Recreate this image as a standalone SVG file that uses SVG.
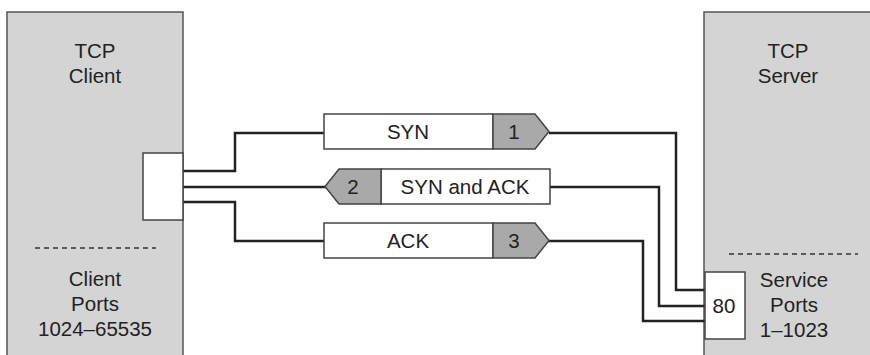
<svg xmlns="http://www.w3.org/2000/svg" width="870" height="355" viewBox="0 0 870 355">
<style>
.host{fill:#d4d4d4;stroke:#555;stroke-width:1.5}
.port{fill:#fff;stroke:#444;stroke-width:1.5}
.dash{stroke:#333;stroke-width:1.5;stroke-dasharray:5 4;fill:none}
.wire{fill:none;stroke:#222;stroke-width:2.5}
.seg{fill:#fff;stroke:#444;stroke-width:1.5}
.num{fill:#a9a9a9;stroke:#444;stroke-width:1.5}
text{font-family:"Liberation Sans",Arial,sans-serif;font-size:20.5px;fill:#222;text-anchor:middle}
</style>
<rect width="870" height="355" fill="#fff"/>
<g id="client">
<rect class="host" x="7" y="12" width="176" height="350"/>
<text x="95" y="58">TCP</text>
<text x="95" y="83">Client</text>
<line class="dash" x1="35" y1="248" x2="156" y2="248"/>
<text x="95" y="286">Client</text>
<text x="95" y="311">Ports</text>
<text x="95" y="336">1024–65535</text>
</g>
<g id="server">
<rect class="host" x="704" y="12" width="180" height="350"/>
<text x="788" y="58">TCP</text>
<text x="788" y="83">Server</text>
<line class="dash" x1="729" y1="254" x2="858" y2="254"/>
<text x="794" y="287">Service</text>
<text x="794" y="312">Ports</text>
<text x="794" y="337">1–1023</text>
</g>
<g id="connectors">
<polyline class="wire" points="183,171 235,171 235,133 324,133"/>
<polyline class="wire" points="549,133 676,133 676,290 705,290"/>
<polyline class="wire" points="183,187 326,187"/>
<polyline class="wire" points="550,187 659,187 659,306 705,306"/>
<polyline class="wire" points="183,202 235,202 235,241 324,241"/>
<polyline class="wire" points="548,241 643,241 643,321 705,321"/>
</g>
<g id="client-port">
<rect class="port" x="143" y="153" width="40" height="67"/>
</g>
<g id="server-port">
<rect class="port" x="705" y="272" width="40" height="67"/>
<text x="724" y="313">80</text>
</g>
<g id="syn">
<rect class="seg" x="324" y="114" width="169" height="35"/>
<polygon class="num" points="493,114 535,114 549,131.5 535,149 493,149"/>
<text x="408" y="139">SYN</text>
<text x="514" y="139">1</text>
</g>
<g id="synack">
<rect class="seg" x="381" y="169" width="169" height="35"/>
<polygon class="num" points="381,169 339,169 325,186.5 339,204 381,204"/>
<text x="465" y="194">SYN and ACK</text>
<text x="353" y="194">2</text>
</g>
<g id="ack">
<rect class="seg" x="324" y="223" width="169" height="35"/>
<polygon class="num" points="493,223 535,223 549,240.5 535,258 493,258"/>
<text x="408" y="248">ACK</text>
<text x="514" y="248">3</text>
</g>
</svg>
